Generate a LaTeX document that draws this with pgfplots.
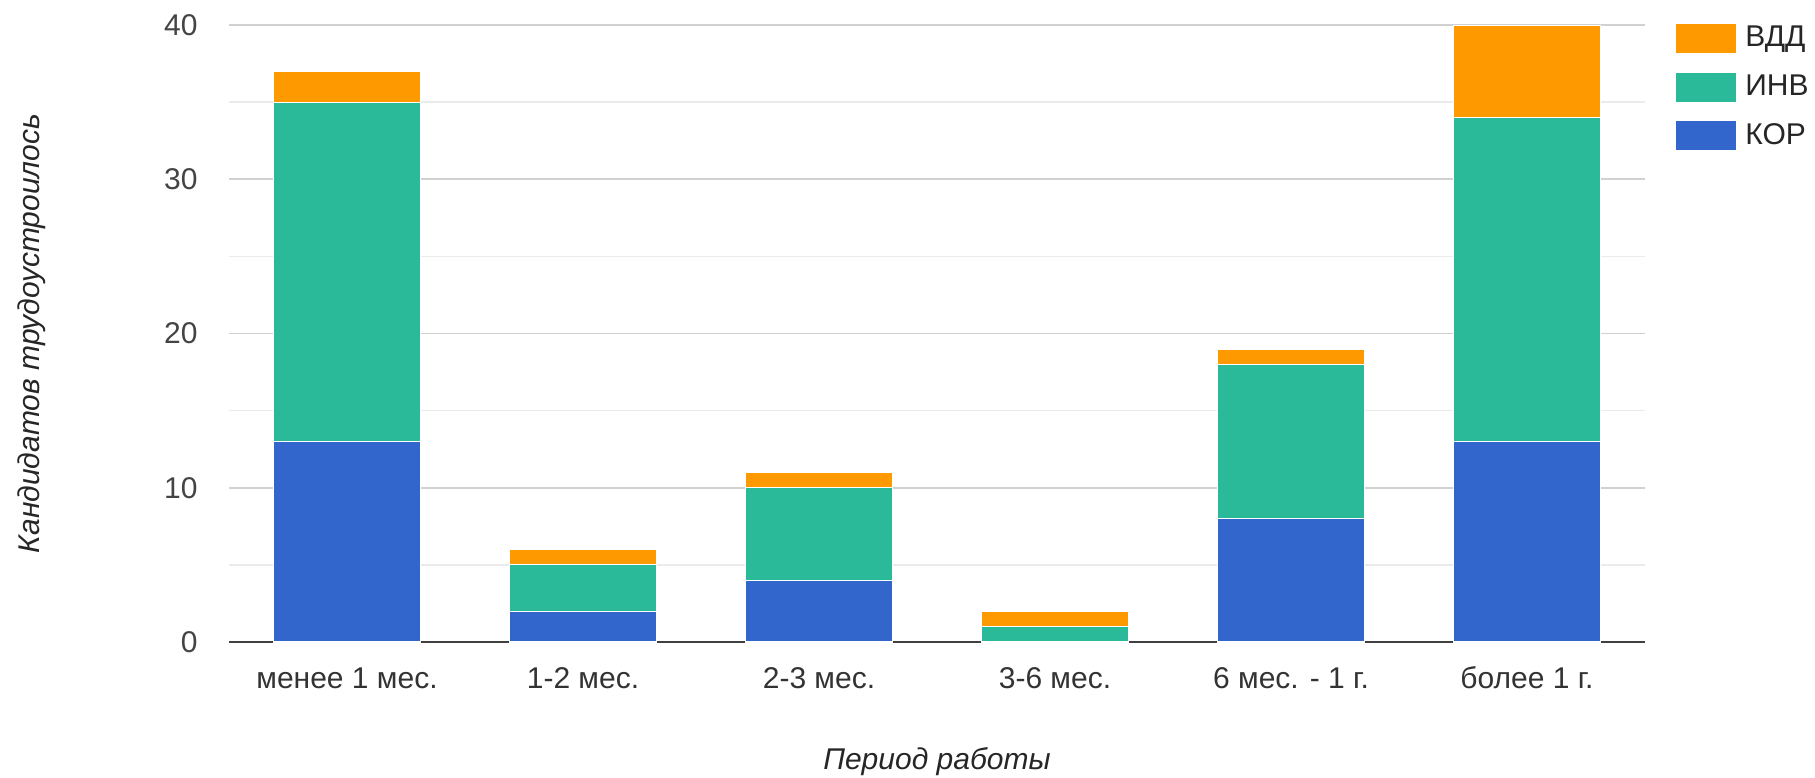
\documentclass[border=0pt]{standalone}
\usepackage{fontspec}
\setmainfont{Liberation Sans}
\usepackage{pgfplots}
\pgfplotsset{compat=1.18}
\definecolor{cor}{HTML}{3366CC}
\definecolor{inv}{HTML}{2BBA99}
\definecolor{vdd}{HTML}{FF9900}
\definecolor{txt}{HTML}{444444}
\begin{document}
\fontsize{15}{18}\selectfont
\begin{tikzpicture}
\begin{axis}[
    set layers,
    scale only axis,
    width=708pt, height=308.5pt,
    ybar stacked,
    bar width=0.62,
    xmin=-0.5, xmax=5.5,
    ymin=0, ymax=40,
    xtick=data,
    xticklabels={менее 1 мес.,1-2 мес.,2-3 мес.,3-6 мес.,6 мес. - 1 г.,более 1 г.},
    ytick={0,10,20,30,40},
    minor y tick num=1,
    ymajorgrids, yminorgrids,
    major grid style={color=black!18, line width=0.8pt},
    minor grid style={color=black!8, line width=0.8pt},
    axis x line*=bottom,
    axis y line*=left,
    x axis line style={-, color=black!75, line width=0.9pt, /pgfplots/on layer=axis foreground},
    y axis line style={draw=none},
    major tick length=0pt, minor tick length=0pt,
    /pgf/number format/assume math mode=true,
    tick label style={text=txt, font=\fontsize{15}{18}\selectfont},
    yticklabel style={xshift=-10.5pt},
    xticklabel style={anchor=center, yshift=-18pt, text=black!80},
    xlabel={\itshape Период работы},
    ylabel={\itshape Кандидатов трудоустроилось},
    every axis x label/.style={at={(axis description cs:0.5,0)}, yshift=-60pt, anchor=center, text=black!85},
    every axis y label/.style={at={(axis description cs:0,0.5)}, xshift=-98.5pt, rotate=90, anchor=center, text=black!85},
    reverse legend,
    legend image code/.code={\fill[#1, draw=none] (0pt,-7.25pt) rectangle (30pt,7.25pt);},
    legend style={draw=none, fill=none, at={(axis description cs:1,1)}, anchor=north west,
        xshift=15.5pt, yshift=0.5pt, inner sep=0pt, row sep=9.75pt, column sep=0pt,
        nodes={inner sep=0pt},
        font=\fontsize{15}{18}\selectfont, text=black!85},
    legend cell align=left,
]
\addplot[fill=cor, draw=white, line width=0.6pt] coordinates {(0,13) (1,2) (2,4) (3,0) (4,8) (5,13)};
\addplot[fill=inv, draw=white, line width=0.6pt] coordinates {(0,22) (1,3) (2,6) (3,1) (4,10) (5,21)};
\addplot[fill=vdd, draw=white, line width=0.6pt] coordinates {(0,2) (1,1) (2,1) (3,1) (4,1) (5,6)};
\legend{\hspace{4.5pt}КОР,\hspace{4.5pt}ИНВ,\hspace{4.5pt}ВДД}
\end{axis}
\pgfresetboundingbox
\path (-114.5pt,-67.5pt) rectangle (793pt,321pt);
\end{tikzpicture}
\end{document}
